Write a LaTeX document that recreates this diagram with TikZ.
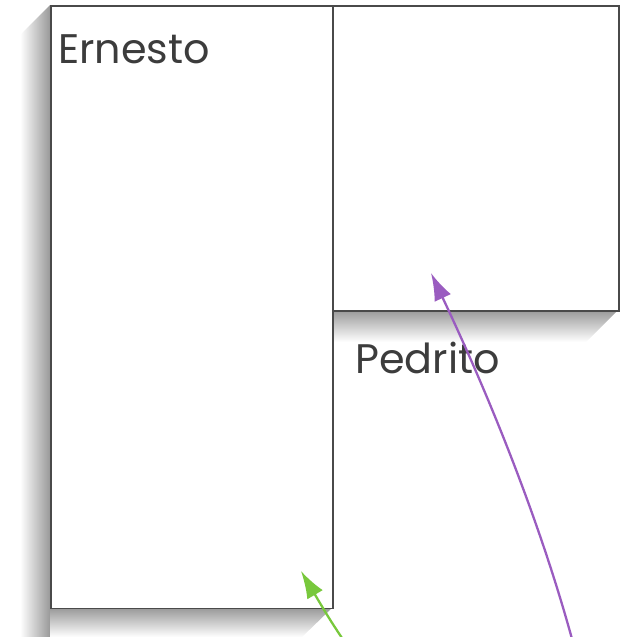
\documentclass[tikz,border=0pt]{standalone}
\usepackage{fontspec}
\setmainfont{Poppins}
\usetikzlibrary{arrows.meta,positioning}
\definecolor{edgegray}{HTML}{4A4A4A}
\definecolor{textgray}{HTML}{3C3C3C}
\definecolor{arrowpurple}{HTML}{9A5CC0}
\definecolor{arrowgreen}{HTML}{78C83C}
\tikzset{
  panel/.style = {draw=edgegray, fill=white, line width=0.9pt, rectangle, inner sep=0pt, anchor=north west},
  kidname/.style = {text=textgray, font=\fontsize{23.5}{28}\selectfont, inner sep=0pt, anchor=base west},
  arrow/.style = {line width=1.3pt, -{Latex[length=5.5mm, width=3.6mm]}}
}
\begin{document}
\begin{tikzpicture}[x=0.02cm, y=-0.02cm]
  \useasboundingbox (0,0) rectangle (628,637);
  % shadows
  \shade[top color=gray!80, bottom color=white] (50,608) -- (332,608) -- (302,637) -- (20,637) -- cycle;
  \shade[left color=white, right color=gray!80] (50,5) -- (20,35) -- (20,637) -- (50,637) -- cycle;
  \shade[top color=gray!80, bottom color=white] (332,310) -- (618,310) -- (586,342) -- (332,342) -- cycle;
  % panels
  \node[panel, minimum width=5.64cm, minimum height=12.06cm] (ernestobox) at (50,5) {};
  \node[panel, minimum width=5.72cm, minimum height=6.1cm] (pedritobox) at (332,5) {};
  \node[kidname] (ernesto) at (58,63) {Ernesto};
  \node[kidname] (pedrito) at (355,373) {Pedrito};
  % arrows
  \coordinate (purplestart) at (575,650);
  \coordinate (purpletip) at (431,273);
  \coordinate (greenstart) at (350,650);
  \coordinate (greentip) at (301,571);
  \draw[arrow, arrowpurple] (purplestart) .. controls (535,500) and (472,360) .. (purpletip);
  \draw[arrow, arrowgreen] (greenstart) .. controls (330,620) .. (greentip);
\end{tikzpicture}
\end{document}
